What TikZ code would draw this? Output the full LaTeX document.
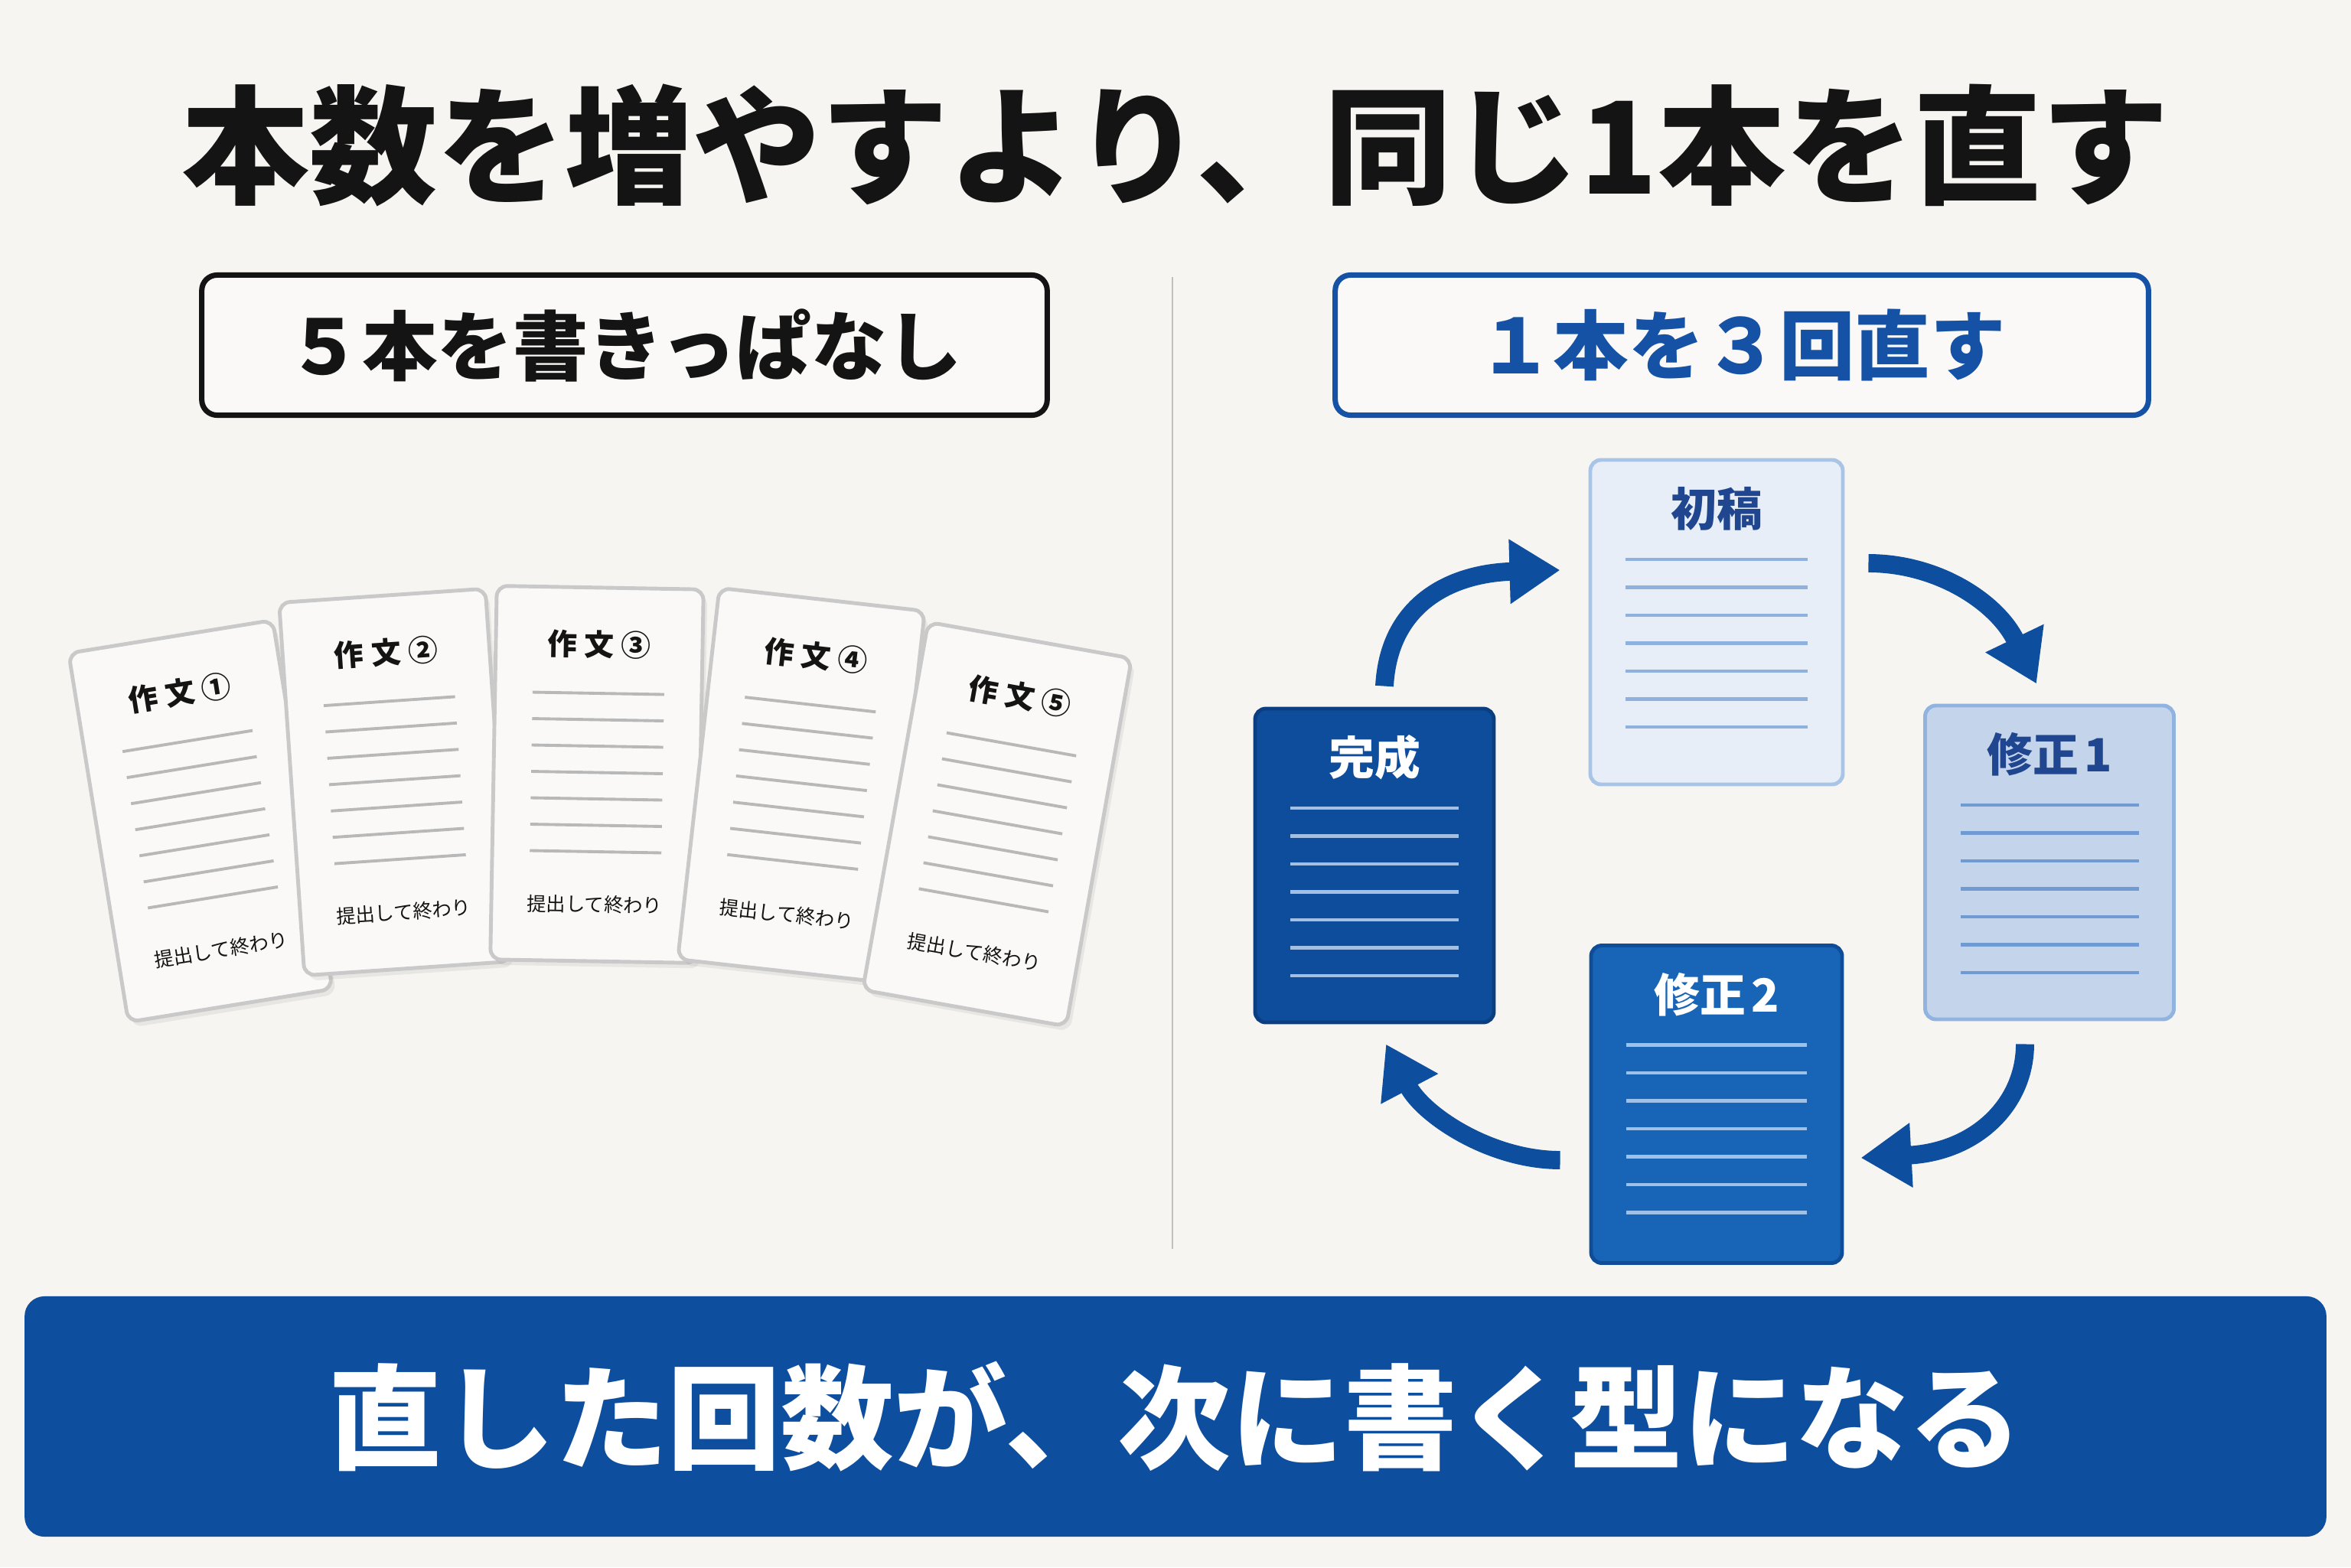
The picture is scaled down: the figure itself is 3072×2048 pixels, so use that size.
\documentclass[tikz,border=0pt]{standalone}
\usepackage{fontspec}
\newfontfamily\jp{Noto Sans CJK JP}
\usetikzlibrary{arrows.meta,calc,shadows}

\definecolor{bgpaper}{HTML}{F7F5F1}
\definecolor{paper}{HTML}{FAF9F7}
\definecolor{papergray}{HTML}{C9C9C9}
\definecolor{rulegray}{HTML}{B8B8B8}
\definecolor{ink}{HTML}{141414}
\definecolor{brand}{HTML}{1552A6}
\definecolor{navy}{HTML}{0E4E9E}
\definecolor{titleblue}{HTML}{1F468F}
\definecolor{draftfill}{HTML}{E8EEF7}
\definecolor{draftedge}{HTML}{A8C4E7}
\definecolor{draftrule}{HTML}{8FB1DD}
\definecolor{revafill}{HTML}{C4D4EA}
\definecolor{revaedge}{HTML}{90B3E0}
\definecolor{revarule}{HTML}{6F9AD2}
\definecolor{revbfill}{HTML}{1864B6}
\definecolor{revbedge}{HTML}{0F4D98}
\definecolor{revbrule}{HTML}{9EC1EA}
\definecolor{donefill}{HTML}{0E4D9B}
\definecolor{doneedge}{HTML}{0B3E80}
\definecolor{donerule}{HTML}{A4BFE4}

% one essay sheet: [name](centre)(angle){number}
\def\essaycard[#1](#2)(#3)#4{%
	\begin{scope}[shift={(#2)}, rotate=#3, transform shape]
		\node[essay] (#1) at (0,0) {};
		\node[essay title] (#1-title) at (0,-170) {作\hspace{0.25em}文\hspace{0.25em}#4};
		\foreach \k in {0,...,6}
			\draw[essay rule] (-86,{-106+34.5*\k}) -- (86,{-106+34.5*\k});
		\node[essay foot] (#1-foot) at (0,170) {提出して終わり};
	\end{scope}}

\begin{document}
\begin{tikzpicture}[x=0.01cm, y=-0.01cm,
		essay/.style={draw=papergray, line width=1.4pt, fill=paper, rounded corners=0.14cm,
			minimum width=2.7cm, minimum height=4.88cm,
			drop shadow={opacity=0.12, shadow xshift=0.05cm, shadow yshift=-0.07cm}},
		essay title/.style={font=\jp\bfseries\fontsize{11}{13}\selectfont, text=ink},
		essay foot/.style={font=\jp\fontsize{7.2}{9}\selectfont, text=ink},
		essay rule/.style={draw=rulegray, line width=1.1pt},
		headbox/.style={line width=2pt, fill=paper, rounded corners=0.2cm,
			minimum height=1.83cm, font=\jp\bfseries\fontsize{28}{32}\selectfont},
		cyclecard/.style={line width=1.4pt, rounded corners=0.14cm},
		cyclearrow/.style={draw=navy, line width=6.8pt, -{Triangle[length=0.66cm, width=0.8cm]}}]
	%%%%% START %%%%%

	\fill[bgpaper] (0,0) rectangle (3072,2048);
	\useasboundingbox (0,0) rectangle (3072,2048);

	\node[font=\jp\bfseries\fontsize{47.5}{52}\selectfont, text=ink] (headline) at (1536,190) {本数を増やすより、同じ1本を直す};

	\node[headbox, draw=ink, text=ink, minimum width=11.04cm] (leftbox) at (816,451) {５本を書きっぱなし};
	\node[headbox, draw=brand, text=brand, minimum width=10.62cm] (rightbox) at (2276,451) {１本を３回直す};

	\draw[line width=0.8pt, draw=black!25] (1532,362) -- (1532,1632);

	% five sheets, written once
	\essaycard[e1](262,1073)(9.2){①}
	\essaycard[e2](516,1022)(3.9){②}
	\essaycard[e3](780,1012)(-1){③}
	\essaycard[e4](1047,1026)(-6.4){④}
	\essaycard[e5](1303,1077)(-10.1){⑤}

	% one sheet, rewritten
	\foreach \nm/\cx/\cy/\w/\h/\fc/\dc/\lc/\tc/\lbl in {
			draft/2243/813/330/424/draftfill/draftedge/draftrule/titleblue/初稿,
			rev1/2678/1127/325/410/revafill/revaedge/revarule/titleblue/修正\hspace{0.12em}1,
			rev2/2243/1443/328/415/revbfill/revbedge/revbrule/white/修正\hspace{0.12em}2,
			done/1796/1131/312/410/donefill/doneedge/donerule/white/完成}
	{
		\node[cyclecard, fill=\fc, draw=\dc, minimum width={\w*0.01cm}, minimum height={\h*0.01cm}] (\nm) at (\cx,\cy) {};
		\node[font=\jp\bfseries\fontsize{17}{20}\selectfont, text=\tc] (\nm-title) at (\cx,{\cy-\h/2+64}) {\lbl};
		\foreach \k in {0,...,6}
			\draw[draw=\lc, line width=1.2pt] ({\cx-\w/2+46},{\cy-\h/2+130+36.5*\k}) -- ({\cx+\w/2-46},{\cy-\h/2+130+36.5*\k});
	}

	\coordinate (a1s) at ($(done.north)+(13,-27)$);
	\coordinate (a1e) at ($(draft.west)+(-37,-68)$);
	\coordinate (a2s) at ($(draft.east)+(31,-77)$);
	\coordinate (a2e) at ($(rev1.north)+(-17,-26)$);
	\coordinate (a3s) at ($(rev1.south)+(-32,30)$);
	\coordinate (a3e) at ($(rev2.east)+(22,70)$);
	\coordinate (a4s) at ($(rev2.west)+(-38,73)$);
	\coordinate (a4e) at ($(done.south)+(15,26)$);

	\draw[cyclearrow] (a1s) .. controls +(6,-109) and +(-141,4) .. (a1e);
	\draw[cyclearrow] (a2s) .. controls +(91,0) and +(-51,-106) .. (a2e);
	\draw[cyclearrow] (a3s) .. controls +(0,78) and +(151,-8) .. (a3e);
	\draw[cyclearrow] (a4s) .. controls +(-91,0) and +(49,93) .. (a4e);

	\node[fill=navy, rounded corners=0.26cm, minimum width=30.06cm, minimum height=3.14cm,
		font=\jp\bfseries\fontsize{42}{46}\selectfont, text=white] (banner) at (1536,1851) {直した回数が、次に書く型になる};

	%%%%% END %%%%%
\end{tikzpicture}
\end{document}
